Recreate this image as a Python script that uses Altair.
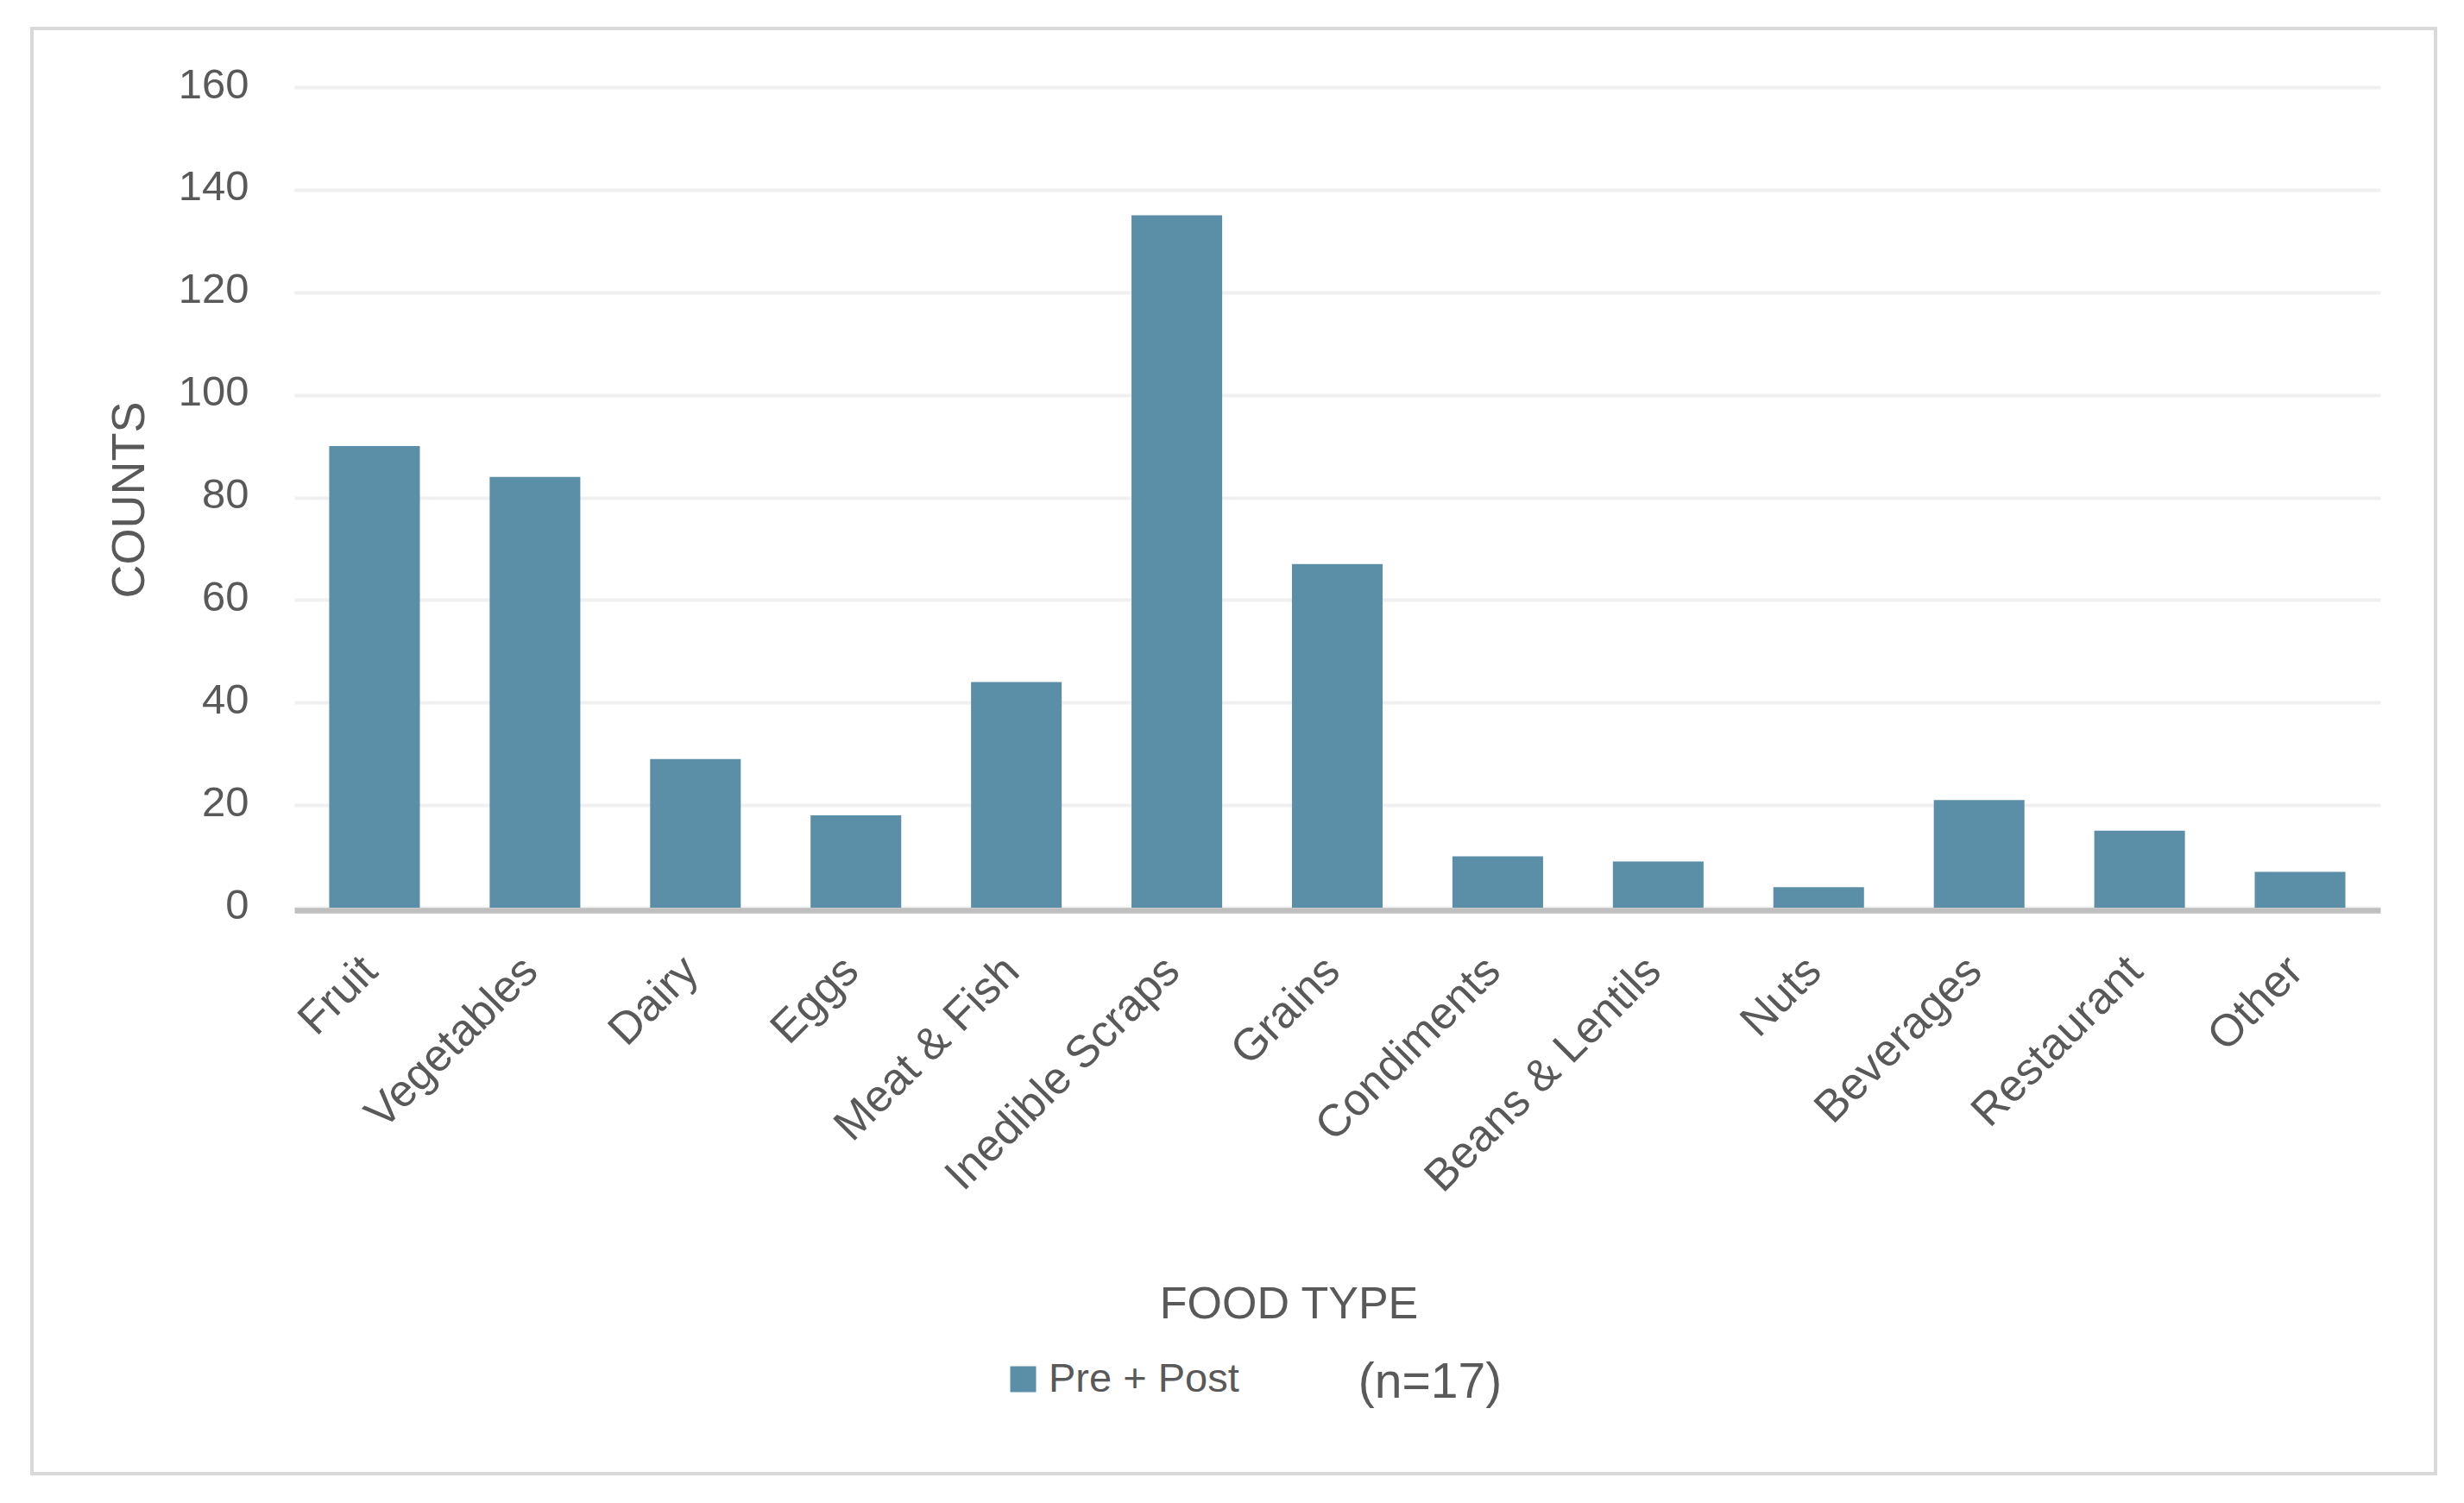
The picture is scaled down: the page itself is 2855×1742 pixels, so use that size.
import altair as alt
import pandas as pd

# ---- data ----
categories = ["Fruit", "Vegetables", "Dairy", "Eggs", "Meat & Fish", "Inedible Scraps",
              "Grains", "Condiments", "Beans & Lentils", "Nuts", "Beverages",
              "Restaurant", "Other"]
counts = [90, 84, 29, 18, 44, 135, 67, 10, 9, 4, 21, 15, 7]
series_name = "Pre + Post"
y_ticks = [0, 20, 40, 60, 80, 100, 120, 140, 160]
note_text = "(n=17)"

FONT = "Liberation Sans"
TXT = "#595959"
BAR = "#5B8FA8"

df = pd.DataFrame({"food": categories, "count": counts, "series": [series_name] * len(categories)})

W, H = 2417, 951
PAD_L, PAD_T = 333, 93

bars = alt.Chart(df).mark_bar().encode(
    x=alt.X(
        "food:N",
        sort=categories,
        scale=alt.Scale(paddingInner=0.435, paddingOuter=0.2175),
        axis=alt.Axis(
            title="FOOD TYPE",
            labelAngle=-45,
            labelAlign="right",
            labelBaseline="top",
            labelFontSize=52,
            labelColor=TXT,
            labelPadding=44,
            labelOffset=-23,
            labelLimit=0,
            labelOverlap=False,
            ticks=False,
            tickSize=0,
            grid=False,
            domainColor="#BFBFBF",
            domainWidth=6.7,
            offset=3,
            titleFontSize=52,
            titleFontWeight="normal",
            titleColor=TXT,
            titleX=1152,
            titleY=472,
            titleAlign="center",
            titleBaseline="alphabetic",
        ),
    ),
    y=alt.Y(
        "count:Q",
        scale=alt.Scale(domain=[0, 160], nice=False),
        axis=alt.Axis(
            title="COUNTS",
            values=y_ticks,
            labelFontSize=49,
            labelColor=TXT,
            labelPadding=53,
            labelOffset=-3,
            ticks=False,
            tickSize=0,
            domain=False,
            grid=True,
            gridColor="#F0F0F0",
            gridWidth=4,
            titleFontSize=54,
            titleFontWeight="normal",
            titleColor=TXT,
            titleAngle=-90,
            titleX=-175,
            titleY=478,
            titleAlign="center",
            titleBaseline="alphabetic",
        ),
    ),
    color=alt.Color(
        "series:N",
        scale=alt.Scale(range=[BAR]),
        legend=alt.Legend(
            title=None,
            orient="none",
            legendX=821,
            legendY=1474,
            symbolType="square",
            symbolSize=900,
            symbolStrokeWidth=0,
            symbolOpacity=1,
            labelFontSize=47,
            labelColor=TXT,
            labelOffset=6,
            labelLimit=0,
            padding=0,
        ),
    ),
)

# outer frame of the chart
frame = alt.Chart(pd.DataFrame({"k": [0]})).mark_rect(
    fill=None, stroke="#D9D9D9", strokeWidth=4
).encode(
    x=alt.value(29 - PAD_L),
    x2=alt.value(2814 - PAD_L),
    y=alt.value(25 - PAD_T),
    y2=alt.value(1700 - PAD_T),
)

note = alt.Chart(pd.DataFrame({"t": [note_text]})).mark_text(
    font=FONT, fontSize=57, color="#5A5A5A", align="center", baseline="alphabetic"
).encode(
    text="t:N",
    x=alt.value(1657 - 8 - PAD_L),
    y=alt.value(1620 - 8 - PAD_T),
)

chart = alt.layer(frame, bars, note).properties(
    width=W,
    height=H,
    autosize=alt.AutoSizeParams(type="none"),
    padding={"left": PAD_L, "top": PAD_T, "right": 80, "bottom": 676},
    background="white",
).configure(
    font=FONT,
).configure_view(
    strokeWidth=0,
)

chart.save("out.html", embed_options={"renderer": "svg", "actions": False})
